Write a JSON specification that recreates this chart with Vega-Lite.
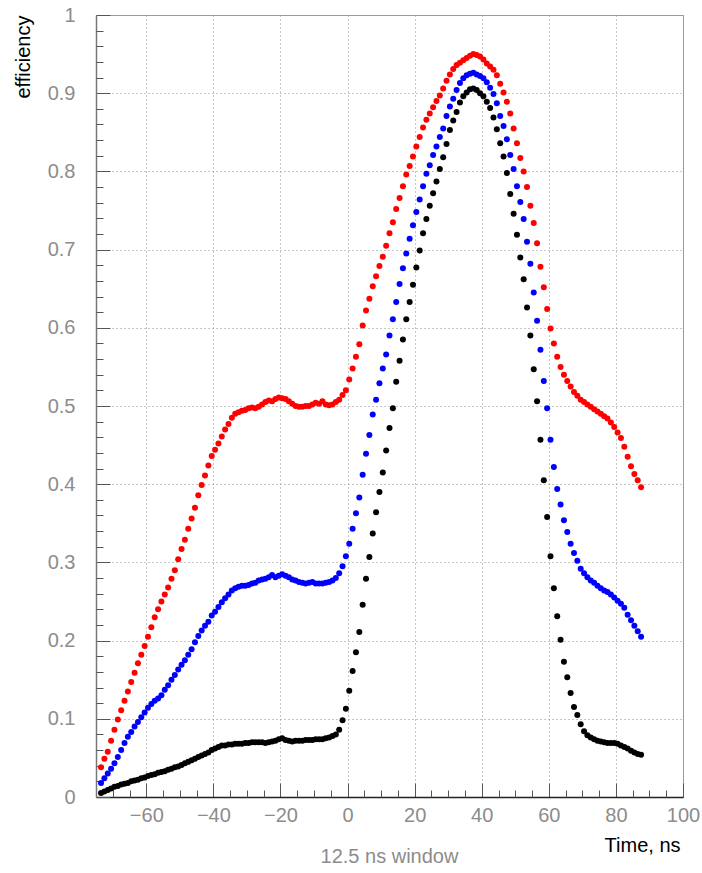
{
"$schema": "https://vega.github.io/schema/vega-lite/v6.json",
"width": 587, "height": 782,
"autosize": {"type": "none"},
"padding": {"left": 96, "top": 15, "right": 19, "bottom": 76},
"background": "white",
"config": {"view": {"stroke": "#a0a0a0", "strokeWidth": 1}, "font": "Liberation Sans"},
"title": {"text": "12.5 ns window", "orient": "bottom", "anchor": "middle", "fontSize": 20, "fontWeight": "normal", "color": "#8c8c8c", "offset": -8},
"datasets": {
"pts": [
{"s":"r","t":-73.5,"e":0.038},{"s":"r","t":-72.5,"e":0.049},{"s":"r","t":-71.5,"e":0.058},{"s":"r","t":-70.5,"e":0.072},{"s":"r","t":-69.5,"e":0.086},{"s":"r","t":-68.5,"e":0.099},{"s":"r","t":-67.5,"e":0.111},{"s":"r","t":-66.5,"e":0.123},{"s":"r","t":-65.5,"e":0.135},{"s":"r","t":-64.5,"e":0.147},{"s":"r","t":-63.5,"e":0.159},{"s":"r","t":-62.5,"e":0.171},{"s":"r","t":-61.5,"e":0.182},{"s":"r","t":-60.5,"e":0.193},{"s":"r","t":-59.5,"e":0.205},{"s":"r","t":-58.5,"e":0.217},{"s":"r","t":-57.5,"e":0.230},{"s":"r","t":-56.5,"e":0.240},{"s":"r","t":-55.5,"e":0.250},{"s":"r","t":-54.5,"e":0.259},{"s":"r","t":-53.5,"e":0.268},{"s":"r","t":-52.5,"e":0.279},{"s":"r","t":-51.5,"e":0.290},{"s":"r","t":-50.5,"e":0.304},{"s":"r","t":-49.5,"e":0.317},{"s":"r","t":-48.5,"e":0.329},{"s":"r","t":-47.5,"e":0.343},{"s":"r","t":-46.5,"e":0.356},{"s":"r","t":-45.5,"e":0.370},{"s":"r","t":-44.5,"e":0.386},{"s":"r","t":-43.5,"e":0.399},{"s":"r","t":-42.5,"e":0.411},{"s":"r","t":-41.5,"e":0.424},{"s":"r","t":-40.5,"e":0.436},{"s":"r","t":-39.5,"e":0.444},{"s":"r","t":-38.5,"e":0.452},{"s":"r","t":-37.5,"e":0.461},{"s":"r","t":-36.5,"e":0.470},{"s":"r","t":-35.5,"e":0.477},{"s":"r","t":-34.5,"e":0.485},{"s":"r","t":-33.5,"e":0.490},{"s":"r","t":-32.5,"e":0.492},{"s":"r","t":-31.5,"e":0.494},{"s":"r","t":-30.5,"e":0.495},{"s":"r","t":-29.5,"e":0.497},{"s":"r","t":-28.5,"e":0.498},{"s":"r","t":-27.5,"e":0.497},{"s":"r","t":-26.5,"e":0.499},{"s":"r","t":-25.5,"e":0.502},{"s":"r","t":-24.5,"e":0.505},{"s":"r","t":-23.5,"e":0.507},{"s":"r","t":-22.5,"e":0.506},{"s":"r","t":-21.5,"e":0.509},{"s":"r","t":-20.5,"e":0.511},{"s":"r","t":-19.5,"e":0.510},{"s":"r","t":-18.5,"e":0.509},{"s":"r","t":-17.5,"e":0.506},{"s":"r","t":-16.5,"e":0.503},{"s":"r","t":-15.5,"e":0.500},{"s":"r","t":-14.5,"e":0.499},{"s":"r","t":-13.5,"e":0.499},{"s":"r","t":-12.5,"e":0.500},{"s":"r","t":-11.5,"e":0.500},{"s":"r","t":-10.5,"e":0.502},{"s":"r","t":-9.5,"e":0.504},{"s":"r","t":-8.5,"e":0.503},{"s":"r","t":-7.5,"e":0.506},{"s":"r","t":-6.5,"e":0.502},{"s":"r","t":-5.5,"e":0.501},{"s":"r","t":-4.5,"e":0.502},{"s":"r","t":-3.5,"e":0.505},{"s":"r","t":-2.5,"e":0.508},{"s":"r","t":-1.5,"e":0.514},{"s":"r","t":-0.5,"e":0.520},{"s":"r","t":0.5,"e":0.534},{"s":"r","t":1.5,"e":0.548},{"s":"r","t":2.5,"e":0.563},{"s":"r","t":3.5,"e":0.579},{"s":"r","t":4.5,"e":0.603},{"s":"r","t":5.5,"e":0.622},{"s":"r","t":6.5,"e":0.637},{"s":"r","t":7.5,"e":0.653},{"s":"r","t":8.5,"e":0.666},{"s":"r","t":9.5,"e":0.679},{"s":"r","t":10.5,"e":0.691},{"s":"r","t":11.5,"e":0.705},{"s":"r","t":12.5,"e":0.721},{"s":"r","t":13.5,"e":0.735},{"s":"r","t":14.5,"e":0.752},{"s":"r","t":15.5,"e":0.766},{"s":"r","t":16.5,"e":0.781},{"s":"r","t":17.5,"e":0.796},{"s":"r","t":18.5,"e":0.807},{"s":"r","t":19.5,"e":0.819},{"s":"r","t":20.5,"e":0.832},{"s":"r","t":21.5,"e":0.844},{"s":"r","t":22.5,"e":0.856},{"s":"r","t":23.5,"e":0.866},{"s":"r","t":24.5,"e":0.874},{"s":"r","t":25.5,"e":0.882},{"s":"r","t":26.5,"e":0.890},{"s":"r","t":27.5,"e":0.897},{"s":"r","t":28.5,"e":0.906},{"s":"r","t":29.5,"e":0.916},{"s":"r","t":30.5,"e":0.924},{"s":"r","t":31.5,"e":0.931},{"s":"r","t":32.5,"e":0.936},{"s":"r","t":33.5,"e":0.939},{"s":"r","t":34.5,"e":0.942},{"s":"r","t":35.5,"e":0.945},{"s":"r","t":36.5,"e":0.948},{"s":"r","t":37.5,"e":0.950},{"s":"r","t":38.5,"e":0.949},{"s":"r","t":39.5,"e":0.947},{"s":"r","t":40.5,"e":0.943},{"s":"r","t":41.5,"e":0.938},{"s":"r","t":42.5,"e":0.934},{"s":"r","t":43.5,"e":0.930},{"s":"r","t":44.5,"e":0.923},{"s":"r","t":45.5,"e":0.912},{"s":"r","t":46.5,"e":0.901},{"s":"r","t":47.5,"e":0.889},{"s":"r","t":48.5,"e":0.874},{"s":"r","t":49.5,"e":0.855},{"s":"r","t":50.5,"e":0.836},{"s":"r","t":51.5,"e":0.817},{"s":"r","t":52.5,"e":0.800},{"s":"r","t":53.5,"e":0.780},{"s":"r","t":54.5,"e":0.756},{"s":"r","t":55.5,"e":0.734},{"s":"r","t":56.5,"e":0.708},{"s":"r","t":57.5,"e":0.678},{"s":"r","t":58.5,"e":0.652},{"s":"r","t":59.5,"e":0.624},{"s":"r","t":60.5,"e":0.599},{"s":"r","t":61.5,"e":0.580},{"s":"r","t":62.5,"e":0.563},{"s":"r","t":63.5,"e":0.550},{"s":"r","t":64.5,"e":0.540},{"s":"r","t":65.5,"e":0.532},{"s":"r","t":66.5,"e":0.525},{"s":"r","t":67.5,"e":0.518},{"s":"r","t":68.5,"e":0.513},{"s":"r","t":69.5,"e":0.508},{"s":"r","t":70.5,"e":0.505},{"s":"r","t":71.5,"e":0.502},{"s":"r","t":72.5,"e":0.499},{"s":"r","t":73.5,"e":0.496},{"s":"r","t":74.5,"e":0.493},{"s":"r","t":75.5,"e":0.490},{"s":"r","t":76.5,"e":0.487},{"s":"r","t":77.5,"e":0.484},{"s":"r","t":78.5,"e":0.479},{"s":"r","t":79.5,"e":0.473},{"s":"r","t":80.5,"e":0.466},{"s":"r","t":81.5,"e":0.459},{"s":"r","t":82.5,"e":0.448},{"s":"r","t":83.5,"e":0.435},{"s":"r","t":84.5,"e":0.423},{"s":"r","t":85.5,"e":0.413},{"s":"r","t":86.5,"e":0.405},{"s":"r","t":87.5,"e":0.396},
{"s":"b","t":-73.5,"e":0.018},{"s":"b","t":-72.5,"e":0.024},{"s":"b","t":-71.5,"e":0.030},{"s":"b","t":-70.5,"e":0.036},{"s":"b","t":-69.5,"e":0.043},{"s":"b","t":-68.5,"e":0.051},{"s":"b","t":-67.5,"e":0.060},{"s":"b","t":-66.5,"e":0.069},{"s":"b","t":-65.5,"e":0.077},{"s":"b","t":-64.5,"e":0.083},{"s":"b","t":-63.5,"e":0.090},{"s":"b","t":-62.5,"e":0.096},{"s":"b","t":-61.5,"e":0.102},{"s":"b","t":-60.5,"e":0.108},{"s":"b","t":-59.5,"e":0.114},{"s":"b","t":-58.5,"e":0.119},{"s":"b","t":-57.5,"e":0.123},{"s":"b","t":-56.5,"e":0.126},{"s":"b","t":-55.5,"e":0.130},{"s":"b","t":-54.5,"e":0.137},{"s":"b","t":-53.5,"e":0.143},{"s":"b","t":-52.5,"e":0.150},{"s":"b","t":-51.5,"e":0.156},{"s":"b","t":-50.5,"e":0.163},{"s":"b","t":-49.5,"e":0.169},{"s":"b","t":-48.5,"e":0.175},{"s":"b","t":-47.5,"e":0.182},{"s":"b","t":-46.5,"e":0.189},{"s":"b","t":-45.5,"e":0.198},{"s":"b","t":-44.5,"e":0.206},{"s":"b","t":-43.5,"e":0.213},{"s":"b","t":-42.5,"e":0.219},{"s":"b","t":-41.5,"e":0.224},{"s":"b","t":-40.5,"e":0.232},{"s":"b","t":-39.5,"e":0.237},{"s":"b","t":-38.5,"e":0.243},{"s":"b","t":-37.5,"e":0.249},{"s":"b","t":-36.5,"e":0.254},{"s":"b","t":-35.5,"e":0.259},{"s":"b","t":-34.5,"e":0.264},{"s":"b","t":-33.5,"e":0.267},{"s":"b","t":-32.5,"e":0.269},{"s":"b","t":-31.5,"e":0.270},{"s":"b","t":-30.5,"e":0.270},{"s":"b","t":-29.5,"e":0.271},{"s":"b","t":-28.5,"e":0.273},{"s":"b","t":-27.5,"e":0.274},{"s":"b","t":-26.5,"e":0.277},{"s":"b","t":-25.5,"e":0.278},{"s":"b","t":-24.5,"e":0.279},{"s":"b","t":-23.5,"e":0.281},{"s":"b","t":-22.5,"e":0.284},{"s":"b","t":-21.5,"e":0.281},{"s":"b","t":-20.5,"e":0.283},{"s":"b","t":-19.5,"e":0.285},{"s":"b","t":-18.5,"e":0.283},{"s":"b","t":-17.5,"e":0.281},{"s":"b","t":-16.5,"e":0.278},{"s":"b","t":-15.5,"e":0.277},{"s":"b","t":-14.5,"e":0.275},{"s":"b","t":-13.5,"e":0.274},{"s":"b","t":-12.5,"e":0.273},{"s":"b","t":-11.5,"e":0.274},{"s":"b","t":-10.5,"e":0.275},{"s":"b","t":-9.5,"e":0.273},{"s":"b","t":-8.5,"e":0.273},{"s":"b","t":-7.5,"e":0.273},{"s":"b","t":-6.5,"e":0.274},{"s":"b","t":-5.5,"e":0.275},{"s":"b","t":-4.5,"e":0.277},{"s":"b","t":-3.5,"e":0.280},{"s":"b","t":-2.5,"e":0.286},{"s":"b","t":-1.5,"e":0.295},{"s":"b","t":-0.5,"e":0.308},{"s":"b","t":0.5,"e":0.324},{"s":"b","t":1.5,"e":0.343},{"s":"b","t":2.5,"e":0.363},{"s":"b","t":3.5,"e":0.383},{"s":"b","t":4.5,"e":0.412},{"s":"b","t":5.5,"e":0.439},{"s":"b","t":6.5,"e":0.463},{"s":"b","t":7.5,"e":0.489},{"s":"b","t":8.5,"e":0.508},{"s":"b","t":9.5,"e":0.529},{"s":"b","t":10.5,"e":0.548},{"s":"b","t":11.5,"e":0.566},{"s":"b","t":12.5,"e":0.590},{"s":"b","t":13.5,"e":0.611},{"s":"b","t":14.5,"e":0.633},{"s":"b","t":15.5,"e":0.656},{"s":"b","t":16.5,"e":0.676},{"s":"b","t":17.5,"e":0.695},{"s":"b","t":18.5,"e":0.714},{"s":"b","t":19.5,"e":0.731},{"s":"b","t":20.5,"e":0.748},{"s":"b","t":21.5,"e":0.764},{"s":"b","t":22.5,"e":0.781},{"s":"b","t":23.5,"e":0.797},{"s":"b","t":24.5,"e":0.808},{"s":"b","t":25.5,"e":0.821},{"s":"b","t":26.5,"e":0.832},{"s":"b","t":27.5,"e":0.844},{"s":"b","t":28.5,"e":0.855},{"s":"b","t":29.5,"e":0.871},{"s":"b","t":30.5,"e":0.883},{"s":"b","t":31.5,"e":0.893},{"s":"b","t":32.5,"e":0.904},{"s":"b","t":33.5,"e":0.913},{"s":"b","t":34.5,"e":0.919},{"s":"b","t":35.5,"e":0.923},{"s":"b","t":36.5,"e":0.925},{"s":"b","t":37.5,"e":0.926},{"s":"b","t":38.5,"e":0.924},{"s":"b","t":39.5,"e":0.922},{"s":"b","t":40.5,"e":0.919},{"s":"b","t":41.5,"e":0.914},{"s":"b","t":42.5,"e":0.907},{"s":"b","t":43.5,"e":0.899},{"s":"b","t":44.5,"e":0.887},{"s":"b","t":45.5,"e":0.871},{"s":"b","t":46.5,"e":0.858},{"s":"b","t":47.5,"e":0.841},{"s":"b","t":48.5,"e":0.821},{"s":"b","t":49.5,"e":0.803},{"s":"b","t":50.5,"e":0.781},{"s":"b","t":51.5,"e":0.761},{"s":"b","t":52.5,"e":0.739},{"s":"b","t":53.5,"e":0.710},{"s":"b","t":54.5,"e":0.682},{"s":"b","t":55.5,"e":0.645},{"s":"b","t":56.5,"e":0.609},{"s":"b","t":57.5,"e":0.572},{"s":"b","t":58.5,"e":0.532},{"s":"b","t":59.5,"e":0.497},{"s":"b","t":60.5,"e":0.457},{"s":"b","t":61.5,"e":0.422},{"s":"b","t":62.5,"e":0.394},{"s":"b","t":63.5,"e":0.374},{"s":"b","t":64.5,"e":0.354},{"s":"b","t":65.5,"e":0.339},{"s":"b","t":66.5,"e":0.324},{"s":"b","t":67.5,"e":0.312},{"s":"b","t":68.5,"e":0.302},{"s":"b","t":69.5,"e":0.292},{"s":"b","t":70.5,"e":0.286},{"s":"b","t":71.5,"e":0.281},{"s":"b","t":72.5,"e":0.277},{"s":"b","t":73.5,"e":0.274},{"s":"b","t":74.5,"e":0.270},{"s":"b","t":75.5,"e":0.267},{"s":"b","t":76.5,"e":0.264},{"s":"b","t":77.5,"e":0.262},{"s":"b","t":78.5,"e":0.259},{"s":"b","t":79.5,"e":0.255},{"s":"b","t":80.5,"e":0.251},{"s":"b","t":81.5,"e":0.247},{"s":"b","t":82.5,"e":0.242},{"s":"b","t":83.5,"e":0.233},{"s":"b","t":84.5,"e":0.226},{"s":"b","t":85.5,"e":0.219},{"s":"b","t":86.5,"e":0.212},{"s":"b","t":87.5,"e":0.205},
{"s":"k","t":-73.5,"e":0.005},{"s":"k","t":-72.5,"e":0.007},{"s":"k","t":-71.5,"e":0.009},{"s":"k","t":-70.5,"e":0.011},{"s":"k","t":-69.5,"e":0.013},{"s":"k","t":-68.5,"e":0.014},{"s":"k","t":-67.5,"e":0.016},{"s":"k","t":-66.5,"e":0.017},{"s":"k","t":-65.5,"e":0.018},{"s":"k","t":-64.5,"e":0.020},{"s":"k","t":-63.5,"e":0.021},{"s":"k","t":-62.5,"e":0.022},{"s":"k","t":-61.5,"e":0.024},{"s":"k","t":-60.5,"e":0.025},{"s":"k","t":-59.5,"e":0.027},{"s":"k","t":-58.5,"e":0.028},{"s":"k","t":-57.5,"e":0.029},{"s":"k","t":-56.5,"e":0.031},{"s":"k","t":-55.5,"e":0.032},{"s":"k","t":-54.5,"e":0.033},{"s":"k","t":-53.5,"e":0.035},{"s":"k","t":-52.5,"e":0.036},{"s":"k","t":-51.5,"e":0.038},{"s":"k","t":-50.5,"e":0.039},{"s":"k","t":-49.5,"e":0.041},{"s":"k","t":-48.5,"e":0.043},{"s":"k","t":-47.5,"e":0.045},{"s":"k","t":-46.5,"e":0.047},{"s":"k","t":-45.5,"e":0.049},{"s":"k","t":-44.5,"e":0.051},{"s":"k","t":-43.5,"e":0.053},{"s":"k","t":-42.5,"e":0.055},{"s":"k","t":-41.5,"e":0.057},{"s":"k","t":-40.5,"e":0.060},{"s":"k","t":-39.5,"e":0.062},{"s":"k","t":-38.5,"e":0.064},{"s":"k","t":-37.5,"e":0.066},{"s":"k","t":-36.5,"e":0.066},{"s":"k","t":-35.5,"e":0.067},{"s":"k","t":-34.5,"e":0.067},{"s":"k","t":-33.5,"e":0.068},{"s":"k","t":-32.5,"e":0.068},{"s":"k","t":-31.5,"e":0.068},{"s":"k","t":-30.5,"e":0.069},{"s":"k","t":-29.5,"e":0.069},{"s":"k","t":-28.5,"e":0.070},{"s":"k","t":-27.5,"e":0.070},{"s":"k","t":-26.5,"e":0.070},{"s":"k","t":-25.5,"e":0.070},{"s":"k","t":-24.5,"e":0.069},{"s":"k","t":-23.5,"e":0.070},{"s":"k","t":-22.5,"e":0.071},{"s":"k","t":-21.5,"e":0.072},{"s":"k","t":-20.5,"e":0.074},{"s":"k","t":-19.5,"e":0.075},{"s":"k","t":-18.5,"e":0.073},{"s":"k","t":-17.5,"e":0.072},{"s":"k","t":-16.5,"e":0.071},{"s":"k","t":-15.5,"e":0.072},{"s":"k","t":-14.5,"e":0.072},{"s":"k","t":-13.5,"e":0.072},{"s":"k","t":-12.5,"e":0.073},{"s":"k","t":-11.5,"e":0.073},{"s":"k","t":-10.5,"e":0.073},{"s":"k","t":-9.5,"e":0.074},{"s":"k","t":-8.5,"e":0.074},{"s":"k","t":-7.5,"e":0.074},{"s":"k","t":-6.5,"e":0.075},{"s":"k","t":-5.5,"e":0.076},{"s":"k","t":-4.5,"e":0.078},{"s":"k","t":-3.5,"e":0.080},{"s":"k","t":-2.5,"e":0.086},{"s":"k","t":-1.5,"e":0.098},{"s":"k","t":-0.5,"e":0.113},{"s":"k","t":0.5,"e":0.136},{"s":"k","t":1.5,"e":0.161},{"s":"k","t":2.5,"e":0.185},{"s":"k","t":3.5,"e":0.211},{"s":"k","t":4.5,"e":0.246},{"s":"k","t":5.5,"e":0.279},{"s":"k","t":6.5,"e":0.307},{"s":"k","t":7.5,"e":0.337},{"s":"k","t":8.5,"e":0.364},{"s":"k","t":9.5,"e":0.390},{"s":"k","t":10.5,"e":0.415},{"s":"k","t":11.5,"e":0.443},{"s":"k","t":12.5,"e":0.472},{"s":"k","t":13.5,"e":0.497},{"s":"k","t":14.5,"e":0.531},{"s":"k","t":15.5,"e":0.558},{"s":"k","t":16.5,"e":0.585},{"s":"k","t":17.5,"e":0.611},{"s":"k","t":18.5,"e":0.633},{"s":"k","t":19.5,"e":0.655},{"s":"k","t":20.5,"e":0.677},{"s":"k","t":21.5,"e":0.699},{"s":"k","t":22.5,"e":0.721},{"s":"k","t":23.5,"e":0.739},{"s":"k","t":24.5,"e":0.756},{"s":"k","t":25.5,"e":0.772},{"s":"k","t":26.5,"e":0.787},{"s":"k","t":27.5,"e":0.803},{"s":"k","t":28.5,"e":0.818},{"s":"k","t":29.5,"e":0.835},{"s":"k","t":30.5,"e":0.853},{"s":"k","t":31.5,"e":0.865},{"s":"k","t":32.5,"e":0.876},{"s":"k","t":33.5,"e":0.888},{"s":"k","t":34.5,"e":0.896},{"s":"k","t":35.5,"e":0.901},{"s":"k","t":36.5,"e":0.905},{"s":"k","t":37.5,"e":0.906},{"s":"k","t":38.5,"e":0.904},{"s":"k","t":39.5,"e":0.900},{"s":"k","t":40.5,"e":0.896},{"s":"k","t":41.5,"e":0.889},{"s":"k","t":42.5,"e":0.881},{"s":"k","t":43.5,"e":0.869},{"s":"k","t":44.5,"e":0.854},{"s":"k","t":45.5,"e":0.836},{"s":"k","t":46.5,"e":0.819},{"s":"k","t":47.5,"e":0.798},{"s":"k","t":48.5,"e":0.771},{"s":"k","t":49.5,"e":0.746},{"s":"k","t":50.5,"e":0.719},{"s":"k","t":51.5,"e":0.690},{"s":"k","t":52.5,"e":0.662},{"s":"k","t":53.5,"e":0.626},{"s":"k","t":54.5,"e":0.590},{"s":"k","t":55.5,"e":0.547},{"s":"k","t":56.5,"e":0.506},{"s":"k","t":57.5,"e":0.457},{"s":"k","t":58.5,"e":0.405},{"s":"k","t":59.5,"e":0.358},{"s":"k","t":60.5,"e":0.308},{"s":"k","t":61.5,"e":0.267},{"s":"k","t":62.5,"e":0.231},{"s":"k","t":63.5,"e":0.201},{"s":"k","t":64.5,"e":0.173},{"s":"k","t":65.5,"e":0.153},{"s":"k","t":66.5,"e":0.133},{"s":"k","t":67.5,"e":0.115},{"s":"k","t":68.5,"e":0.105},{"s":"k","t":69.5,"e":0.093},{"s":"k","t":70.5,"e":0.084},{"s":"k","t":71.5,"e":0.079},{"s":"k","t":72.5,"e":0.076},{"s":"k","t":73.5,"e":0.074},{"s":"k","t":74.5,"e":0.072},{"s":"k","t":75.5,"e":0.071},{"s":"k","t":76.5,"e":0.070},{"s":"k","t":77.5,"e":0.069},{"s":"k","t":78.5,"e":0.069},{"s":"k","t":79.5,"e":0.069},{"s":"k","t":80.5,"e":0.068},{"s":"k","t":81.5,"e":0.066},{"s":"k","t":82.5,"e":0.064},{"s":"k","t":83.5,"e":0.062},{"s":"k","t":84.5,"e":0.059},{"s":"k","t":85.5,"e":0.057},{"s":"k","t":86.5,"e":0.055},{"s":"k","t":87.5,"e":0.054}
]
},
"data": {"name": "pts"},
"layer": [
{
"mark": {"type": "point", "filled": true, "size": 36, "opacity": 1, "shape": "circle"},
"encoding": {
"x": {"field": "t", "type": "quantitative", "scale": {"domain": [-75, 100], "nice": false, "zero": false},
"axis": {"values": [-60, -40, -20, 0, 20, 40, 60, 80, 100], "labelExpr": "format(datum.value, '')", "tickSize": -14, "tickColor": "#555555", "labelPadding": 22, "labelColor": "#8c8c8c", "labelFontSize": 20, "labelFont": "Liberation Sans", "labelFlush": false, "labelOverlap": false, "labelBound": false, "grid": true, "gridDash": [1, 3], "gridColor": "#8f8f8f", "gridWidth": 1, "domainColor": "#222222", "domainWidth": 1.5, "title": "Time,  ns", "titleFont": "Liberation Sans", "titleFontSize": 20, "titleFontWeight": "normal", "titleColor": "#000000", "titleX": 584, "titleY": 48, "titleAlign": "right", "titleBaseline": "middle", "titleAnchor": null}},
"y": {"field": "e", "type": "quantitative", "scale": {"domain": [0, 1], "nice": false, "zero": false},
"axis": {"values": [0, 0.1, 0.2, 0.3, 0.4, 0.5, 0.6, 0.7, 0.8, 0.9, 1], "labelExpr": "format(datum.value, '')", "tickSize": -14, "tickColor": "#555555", "labelPadding": 35, "labelColor": "#8c8c8c", "labelFontSize": 20, "labelFont": "Liberation Sans", "labelFlush": false, "labelOverlap": false, "labelBound": false, "grid": true, "gridDash": [1, 3], "gridColor": "#8f8f8f", "gridWidth": 1, "domainColor": "#777777", "domainWidth": 1.5, "title": "efficiency", "titleFont": "Liberation Sans", "titleFontSize": 20, "titleFontWeight": "normal", "titleColor": "#000000", "titleX": -73, "titleY": 0, "titleAngle": -90, "titleAlign": "right", "titleBaseline": "middle", "titleAnchor": null}},
"color": {"field": "s", "type": "nominal", "scale": {"domain": ["r", "b", "k"], "range": ["#ff0000", "#0000ff", "#000000"]}, "legend": null}
}
},
{
"mark": {"type": "point", "opacity": 0},
"encoding": {
"x": {"field": "t", "type": "quantitative",
"axis": {"orient": "bottom", "values": [-70, -65, -55, -50, -45, -35, -30, -25, -15, -10, -5, 5, 10, 15, 25, 30, 35, 45, 50, 55, 65, 70, 75, 85, 90, 95], "tickSize": -7, "tickColor": "#555555", "labels": false, "grid": false, "domain": false, "title": null}},
"y": {"field": "e", "type": "quantitative",
"axis": {"orient": "left", "values": [0.02, 0.04, 0.06, 0.08, 0.12, 0.14, 0.16, 0.18, 0.22, 0.24, 0.26, 0.28, 0.32, 0.34, 0.36, 0.38, 0.42, 0.44, 0.46, 0.48, 0.52, 0.54, 0.56, 0.58, 0.62, 0.64, 0.66, 0.68, 0.72, 0.74, 0.76, 0.78, 0.82, 0.84, 0.86, 0.88, 0.92, 0.94, 0.96, 0.98], "tickSize": -7, "tickColor": "#555555", "labels": false, "grid": false, "domain": false, "title": null}}
}
}
],
"resolve": {"axis": {"x": "independent", "y": "independent"}}
}
